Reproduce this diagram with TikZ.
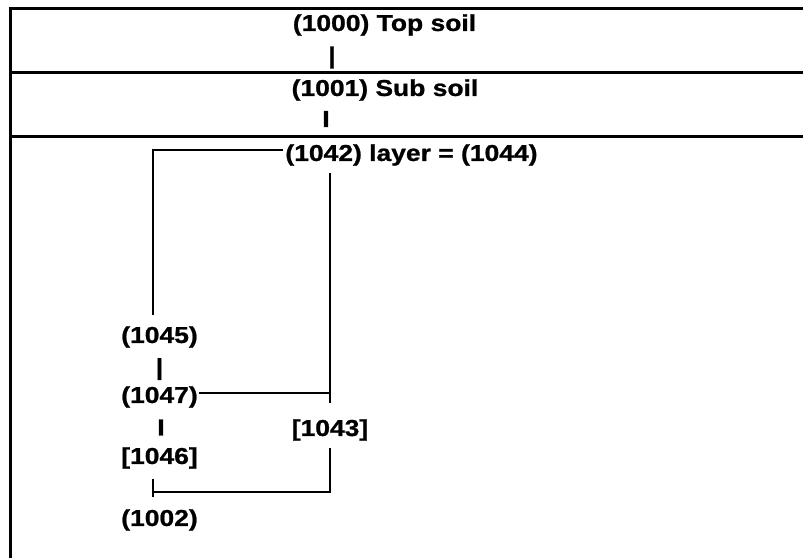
\documentclass[tikz,border=0pt]{standalone}
\usepackage{fontspec}
\setmainfont{Liberation Sans}[FakeStretch=1.15, BoldFeatures={FakeBold=1}]
\usetikzlibrary{calc}
\begin{document}
\begin{tikzpicture}[x=1pt,y=-1pt,
  lbl/.style={inner sep=0pt, font=\fontsize{23}{27}\selectfont\bfseries},
  conn/.style={line width=1.7pt},
  rule/.style={line width=3pt}]
\useasboundingbox (0,0) rectangle (803,558);
% frame and band rules
\draw[rule] (803,8) -- (10.5,8) -- (10.5,558);
\draw[rule] (10.5,72.5) -- (803,72.5);
\draw[rule] (10.5,136) -- (803,136);
% texts
\node[lbl] (t1) at (384.5,25) {(1000) Top soil};
\node[lbl] (b1) at (332,57.5) {|};
\node[lbl] (t2) at (385,90) {(1001) Sub soil};
\node[lbl] (b2) at (326,119) {I};
\node[lbl] (t3) at (411.5,155) {(1042) layer = (1044)};
\node[lbl] (t4) at (159.5,337) {(1045)};
\node[lbl] (b3) at (159.5,369) {|};
\node[lbl] (t5) at (159.5,397) {(1047)};
\node[lbl] (b4) at (161,427.5) {I};
\node[lbl] (t6) at (330,430) {[1043]};
\node[lbl] (t7) at (159.5,458) {[1046]};
\node[lbl] (t8) at (159.5,520) {(1002)};
% connectors
\draw[conn] ($(t3.west)+(-2,-5)$) -| ($(t4.center)+(-6.5,-22)$);
\draw[conn] ($(t3.center -| t6.center)+(0,18)$) -- ($(t6.center)+(0,-27)$);
\draw[conn] ($(t5.east)+(1,-4)$) -- ($(t5.center -| t6.center)+(0,-4)$);
\draw[conn] ($(t7.center)+(-6.5,21)$) -- ($(t8.center)+(-6.5,-23)$);
\draw[conn] ($(t6.center)+(0,18)$) |- ($(t7.center)+(-6.5,34)$);
\end{tikzpicture}
\end{document}
